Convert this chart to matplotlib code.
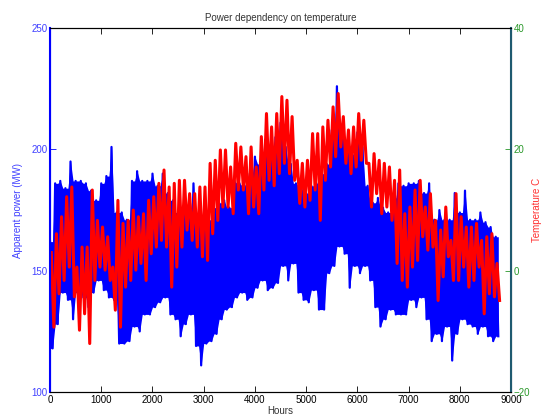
import numpy as np
import matplotlib
matplotlib.use("Agg")
import matplotlib.pyplot as plt

plt.rcParams['font.family'] = ['Liberation Sans', 'DejaVu Sans']

# start hour of each 100 h block (high / low in each block)
block_start = np.arange(0, 8760, 100)

power_hi = [162, 186, 187, 184, 195, 187, 187, 186, 183, 179,
            186, 189, 201, 174, 174, 171, 187, 191, 187, 187,
            190, 185, 190, 182, 179, 174, 174, 176, 186, 170,
            171, 171, 176, 178, 179, 176, 187, 186, 185, 190,
            197, 194, 204, 201, 205, 211, 201, 194, 186, 185,
            182, 185, 186, 190, 194, 208, 226, 209, 201, 198,
            207, 201, 185, 178, 180, 176, 174, 180, 186, 185,
            186, 186, 187, 182, 186, 171, 175, 171, 171, 182,
            174, 183, 171, 171, 174, 170, 168, 164]
power_lo = [118, 128, 141, 138, 130, 141, 139, 135, 141, 146,
            142, 139, 138, 120, 120, 121, 127, 125, 132, 132,
            135, 137, 139, 132, 130, 123, 128, 132, 119, 111,
            120, 121, 124, 130, 134, 135, 139, 141, 138, 139,
            143, 146, 142, 143, 145, 152, 146, 153, 141, 138,
            137, 142, 134, 134, 149, 152, 160, 157, 143, 152,
            149, 152, 146, 135, 127, 130, 134, 132, 132, 132,
            138, 135, 139, 130, 121, 124, 121, 127, 113, 124,
            130, 128, 127, 124, 127, 123, 121, 123]

temp_hi = [3.0, 6.1, 8.9, 12.2, 13.8, 0.6, 3.9, 3.9, 13.3, 8.3,
           7.2, 5.6, 0.6, 11.6, 7.8, 8.3, 10.0, 8.9, 9.4, 11.6,
           12.2, 14.4, 16.6, 13.8, 14.4, 14.9, 14.9, 12.7, 12.7, 13.8,
           13.8, 17.7, 18.2, 19.9, 19.9, 17.1, 21.0, 20.4, 18.8, 20.4,
           17.1, 22.1, 25.9, 23.7, 25.9, 28.7, 28.1, 25.4, 18.2, 17.7,
           18.2, 22.6, 22.6, 23.7, 24.8, 27.0, 29.2, 25.4, 23.2, 23.7,
           25.9, 24.8, 17.7, 19.3, 18.2, 17.7, 17.1, 14.9, 16.6, 9.4,
           10.5, 13.3, 14.9, 10.5, 12.7, 8.3, 6.7, 10.5, 5.0, 12.7,
           8.9, 7.2, 7.2, 7.8, 5.0, 5.6, 6.1, 1.2]
temp_lo = [-9.3, -3.8, -1.6, 0.6, -4.3, -9.8, -7.1, -12.0, -1.6, 0.6,
           0.1, -1.6, -6.5, -9.3, -2.7, -1.6, 0.1, 1.2, -1.6, 2.8,
           3.9, 5.0, 3.9, -2.7, 0.6, 3.9, 6.7, 5.0, 3.9, 2.3,
           1.7, 6.1, 8.3, 10.5, 10.5, 9.4, 13.3, 13.3, 9.4, 10.5,
           9.4, 13.3, 14.9, 14.0, 16.0, 17.7, 16.0, 14.9, 11.1, 10.5,
           11.6, 13.3, 8.3, 14.9, 17.1, 18.8, 20.4, 17.7, 16.0, 17.1,
           18.2, 17.7, 10.5, 12.7, 9.4, 10.5, 8.3, 1.2, -1.6, -2.7,
           0.6, 1.7, 5.6, 3.4, 3.9, -4.9, -1.0, 2.3, -1.6, -1.6,
           0.6, -2.7, -1.6, 0.6, -7.1, -3.8, -4.3, -4.9]


def zigzag(x0, hi, lo):
    # high at block start, low half way through the block
    x = np.column_stack([x0, x0 + 50]).ravel()
    y = np.column_stack([hi, lo]).ravel()
    return x, y


def core(hi, lo):
    # solid part of the trace: the part every neighbouring swing passes through
    hi = np.asarray(hi, float)
    lo = np.asarray(lo, float)
    top = np.column_stack([hi, np.minimum(hi, np.append(hi[1:], hi[-1]))]).ravel()
    bot = np.column_stack([np.maximum(lo, np.insert(lo[:-1], 0, lo[0])), lo]).ravel()
    return top, bot


hours, power = zigzag(block_start, power_hi, power_lo)
_, temp = zigzag(block_start, temp_hi, temp_lo)
p_top, p_bot = core(power_hi, power_lo)

blue = '#0000ff'
red = '#ff0000'
green = '#2a982a'

fig = plt.figure(figsize=(5.42, 4.18), dpi=100)
ax1 = fig.add_axes([0.0923, 0.062, 0.8507, 0.871])
ax2 = ax1.twinx()

ax1.fill_between(hours, p_bot, p_top, color=blue, lw=0)
ax1.plot(hours, power, color=blue, lw=1.6)
ax2.plot(hours + 25, temp, color=red, lw=2.2)

ax1.set_xlim(0, 9000)
ax1.set_ylim(100, 250)
ax2.set_ylim(-20, 40)
ax1.set_xticks(np.arange(0, 9001, 1000))
ax1.set_yticks([100, 150, 200, 250])
ax2.set_yticks([-20, 0, 20, 40])

ax1.tick_params(axis='x', direction='in', length=4, width=0.6, labelsize=7, top=True, colors='black', pad=2)
ax1.tick_params(axis='y', direction='in', length=4, width=0.6, labelsize=7, colors=blue, labelcolor='#4040ff', pad=2)
ax2.tick_params(axis='y', direction='in', length=4, width=0.6, labelsize=7, colors=green, pad=2)

for ax in (ax1, ax2):
    for s in ax.spines.values():
        s.set_linewidth(0.8)
ax2.spines['left'].set_color(blue)
ax1.spines['left'].set_color(blue)
ax2.spines['right'].set_color('#1f5a70')
ax2.spines['right'].set_linewidth(1.5)
ax1.spines['left'].set_linewidth(1.5)

ax1.set_xlabel('Hours', fontsize=7, color='#333333', labelpad=1)
ax1.set_ylabel('Apparent power (MW)', fontsize=7, color='#4040ff', labelpad=6)
ax2.set_ylabel('Temperature C', fontsize=7, color='#ff3030')
ax2.yaxis.set_label_coords(1.046, 0.5)
ax1.set_title('Power dependency on temperature', fontsize=7, color='#333333', pad=5)

fig.savefig('out.png', dpi=100)
